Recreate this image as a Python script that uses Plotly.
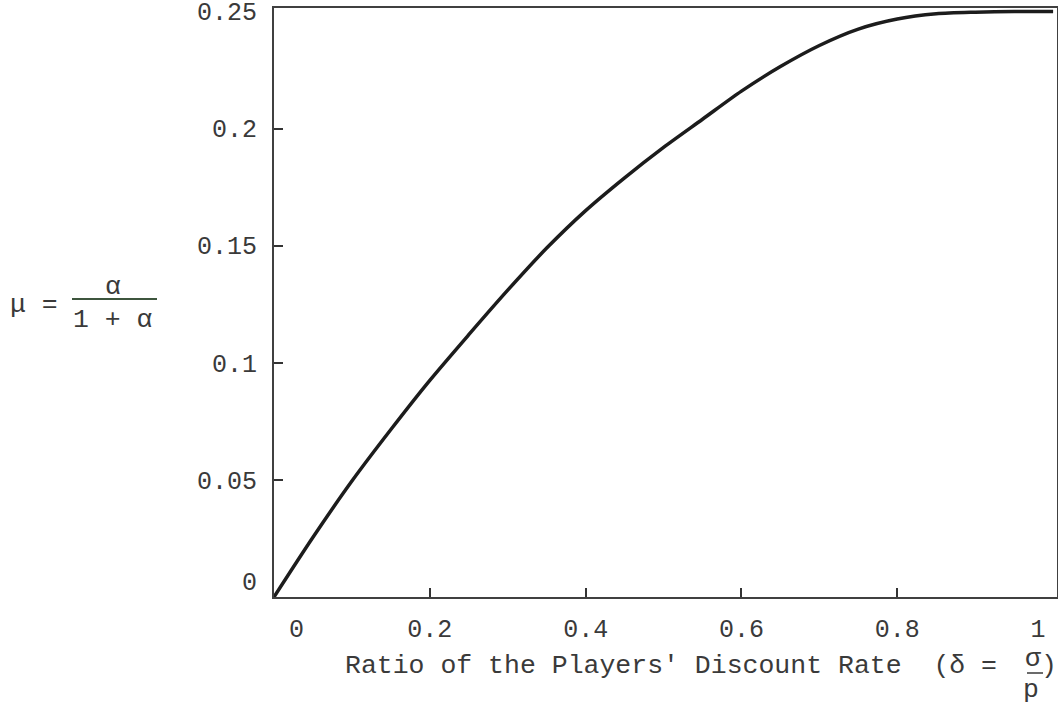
import plotly.graph_objects as go

# Ratio of discount rates (delta) and the resulting share mu = alpha / (1 + alpha)
delta = [0.0, 0.05, 0.10, 0.15, 0.20, 0.25, 0.30, 0.35, 0.40, 0.45, 0.50,
         0.55, 0.60, 0.65, 0.70, 0.75, 0.80, 0.85, 0.90, 0.95, 1.00]
mu = [0.000, 0.0255, 0.0495, 0.0715, 0.0925, 0.112, 0.131, 0.149, 0.165, 0.179,
      0.192, 0.204, 0.216, 0.2265, 0.2355, 0.2425, 0.2468, 0.2490, 0.2497,
      0.2500, 0.2500]

x_tick_vals = [0, 0.2, 0.4, 0.6, 0.8, 1]
x_tick_text = ["\u00a0\u00a0\u00a00", "0.2", "0.4", "0.6", "0.8", "1\u00a0\u00a0"]
x_tick_marks = [0.2, 0.4, 0.6, 0.8]

y_tick_vals = [0, 0.05, 0.1, 0.15, 0.2, 0.25]
y_tick_text = ["0<br>\u00a0", "0.05", "0.1", "0.15", "0.2", "0.25"]
y_tick_marks = [0.05, 0.1, 0.15, 0.2]

W, H = 1058, 704
L, R, T, B = 274, 1, 8, 107
FONT = "Liberation Mono"
INK = "#3a3a3a"


def px(x):
    return (x - L) / (W - L - R)


def py(y):
    return (H - B - y) / (H - T - B)


fig = go.Figure()
fig.add_trace(go.Scatter(
    x=delta, y=mu, mode="lines",
    line=dict(color="#1c1c1c", width=3.5, shape="spline", smoothing=0.8),
    showlegend=False, hoverinfo="skip",
))

axis_common = dict(
    showline=True, linewidth=2, linecolor="#404040", mirror=True,
    showgrid=False, zeroline=False, automargin=False,
    ticks="inside", ticklen=0.01, tickcolor="rgba(0,0,0,0)",
    ticklabeloverflow="allow",
    tickfont=dict(family=FONT, size=25, color=INK),
)

fig.update_xaxes(
    range=[0, 1.005], tickmode="array", tickvals=x_tick_vals, ticktext=x_tick_text,
    ticklabelstandoff=8,
    minor=dict(tickmode="array", tickvals=x_tick_marks, ticks="inside",
               ticklen=9, tickwidth=2, tickcolor="#333333"),
    **axis_common,
)
fig.update_yaxes(
    range=[0, 0.2515], tickmode="array", tickvals=y_tick_vals, ticktext=y_tick_text,
    ticklabelstandoff=10,
    minor=dict(tickmode="array", tickvals=y_tick_marks, ticks="inside",
               ticklen=9, tickwidth=2, tickcolor="#333333"),
    **axis_common,
)

text_font = dict(family=FONT, size=26.5, color=INK)


def label(text, x, y, xanchor="center"):
    fig.add_annotation(
        text=text, x=px(x), y=py(y), xref="paper", yref="paper",
        xanchor=xanchor, yanchor="middle", showarrow=False, font=text_font,
    )


# y-axis title: mu = alpha / (1 + alpha)
label("\u03bc =", 8, 305, xanchor="left")
label("\u03b1", 113, 287)
label("1 + \u03b1", 113, 320)
fig.add_shape(type="line", xref="paper", yref="paper",
              x0=px(72), x1=px(157), y0=py(299), y1=py(299),
              line=dict(color="#3d553d", width=2))

# x-axis title with delta = sigma / p
label("Ratio of the Players' Discount Rate  (\u03b4 =", 343, 666, xanchor="left")
label("\u03c3", 1033, 659)
label(")", 1049, 666)
label("p", 1031, 690)
fig.add_shape(type="line", xref="paper", yref="paper",
              x0=px(1027), x1=px(1043), y0=py(673), y1=py(673),
              line=dict(color="#3a3a3a", width=1.5))

fig.update_layout(
    width=W, height=H, autosize=False,
    margin=dict(l=L, r=R, t=T, b=B, pad=0, autoexpand=False),
    paper_bgcolor="white", plot_bgcolor="white",
)

fig.write_html("out.html")
